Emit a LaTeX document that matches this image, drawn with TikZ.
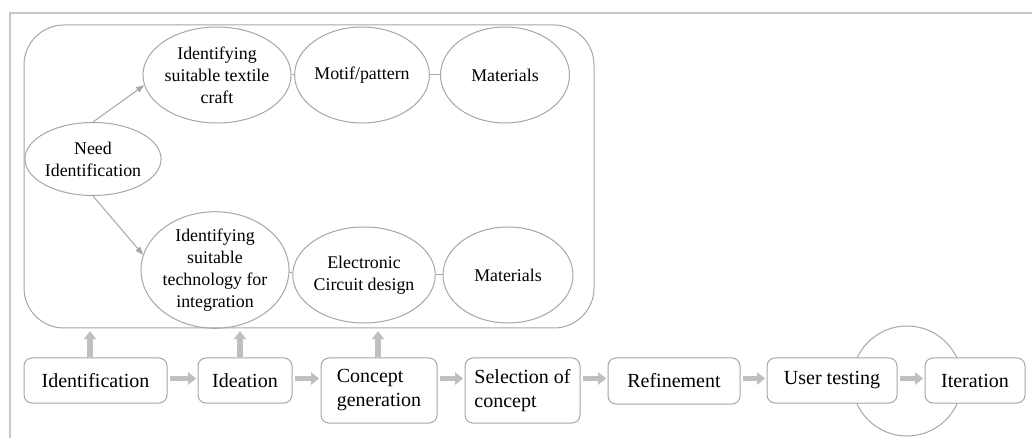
\documentclass[tikz,border=0pt]{standalone}
\usepackage{fontspec}
\setmainfont{Liberation Serif}
\usetikzlibrary{shapes.geometric,arrows.meta,calc}
\definecolor{edge}{HTML}{A6A6A6}
\definecolor{frameline}{HTML}{C8C8C8}
\definecolor{blockarrow}{HTML}{BFBFBF}
\begin{document}
\begin{tikzpicture}[x=0.75pt,y=-0.75pt,
  oval/.style={draw=edge,line width=0.75pt,ellipse,inner sep=0pt,align=center,
    font=\fontsize{13.4}{16.5}\selectfont,text=black},
  stage/.style={draw=edge,line width=0.75pt,rounded corners=6pt,fill=white,inner sep=0pt,
    font=\fontsize{15}{18}\selectfont,text=black},
  link/.style={draw=edge,line width=0.75pt},
  thinarrow/.style={draw=edge,line width=0.75pt,-{Triangle[length=6pt,width=4.5pt]}},
  flow/.style={draw=blockarrow,line width=4pt,-{Triangle[length=6pt,width=9pt]}}
]
\useasboundingbox (0,0) rectangle (1032,438);
% page frame
\draw[frameline,line width=1.2pt] (1032,13) -- (10,13) -- (10,438);

% grouping panel
\node[draw=edge,line width=0.75pt,rounded corners=30pt,minimum width=570*0.75pt,
  minimum height=303*0.75pt,inner sep=0pt] (group) at (309,176.5) {};

% upper branch
\node[oval,minimum width=129*0.75pt,minimum height=96*0.75pt] (textile) at (217,75)
  {Identifying\\suitable textile\\craft};
\node[oval,minimum width=129*0.75pt,minimum height=96*0.75pt] (motif) at (362,75)
  {Motif/pattern};
\node[oval,minimum width=129*0.75pt,minimum height=96*0.75pt] (mat1) at (505,75)
  {Materials};
% root
\node[oval,minimum width=115*0.75pt,minimum height=73*0.75pt] (need) at (93,159)
  {Need\\Identification};
% lower branch
\node[oval,minimum width=136*0.75pt,minimum height=110*0.75pt] (tech) at (215,270)
  {Identifying\\suitable\\technology for\\integration};
\node[oval,minimum width=128*0.75pt,minimum height=96*0.75pt] (circuit) at (364,275)
  {Electronic\\Circuit design};
\node[oval,minimum width=130*0.75pt,minimum height=96*0.75pt] (mat2) at (508,275)
  {Materials};

\draw[link] (textile) -- (motif);
\draw[link] (motif) -- (mat1);
\draw[link] (tech) -- (circuit);
\draw[link] (circuit) -- (mat2);
\draw[thinarrow] (need.north) -- (textile.188);
\draw[thinarrow] (need.south) -- (tech.168);

% iteration loop
\node[draw=edge,line width=0.75pt,circle,minimum size=110*0.75pt,inner sep=0pt] (loop) at (907,381) {};

% process stages
\node[stage,minimum width=143*0.75pt,minimum height=45*0.75pt] (ident) at (95.5,380.5) {Identification};
\node[stage,minimum width=94*0.75pt,minimum height=45*0.75pt] (ideation) at (245,380.5) {Ideation};
\node[stage,minimum width=116*0.75pt,minimum height=65*0.75pt,align=left] (concept) at (379,390.5)
  {Concept\\generation};
\node[stage,minimum width=115*0.75pt,minimum height=65*0.75pt,align=left] (select) at (522.5,390.5)
  {Selection of\\concept};
\node[stage,minimum width=132*0.75pt,minimum height=46*0.75pt] (refine) at (674,381) {Refinement};
\node[stage,minimum width=130*0.75pt,minimum height=45*0.75pt] (user) at (832,380.5) {User testing};
\node[stage,minimum width=100*0.75pt,minimum height=45*0.75pt] (iter) at (975,380.5) {Iteration};

% flow between stages
\coordinate (row) at (0,378.5);
\draw[flow,shorten <=2pt,shorten >=1pt] (ident.east |- row) -- (ideation.west |- row);
\draw[flow,shorten <=2pt,shorten >=1pt] (ideation.east |- row) -- (concept.west |- row);
\draw[flow,shorten <=2pt,shorten >=1pt] (concept.east |- row) -- (select.west |- row);
\draw[flow,shorten <=2pt,shorten >=1pt] (select.east |- row) -- (refine.west |- row);
\draw[flow,shorten <=2pt,shorten >=1pt] (refine.east |- row) -- (user.west |- row);
\draw[flow,shorten <=2pt,shorten >=1pt] (user.east |- row) -- (iter.west |- row);

% links from stages up to the panel
\coordinate (upA) at (90,0);
\coordinate (upB) at (240,0);
\coordinate (upC) at (378,0);
\draw[flow,shorten >=2pt] (ident.north -| upA) -- (upA |- group.south);
\draw[flow,shorten >=2pt] (ideation.north -| upB) -- (upB |- group.south);
\draw[flow,shorten >=2pt] (concept.north -| upC) -- (upC |- group.south);
\end{tikzpicture}
\end{document}
